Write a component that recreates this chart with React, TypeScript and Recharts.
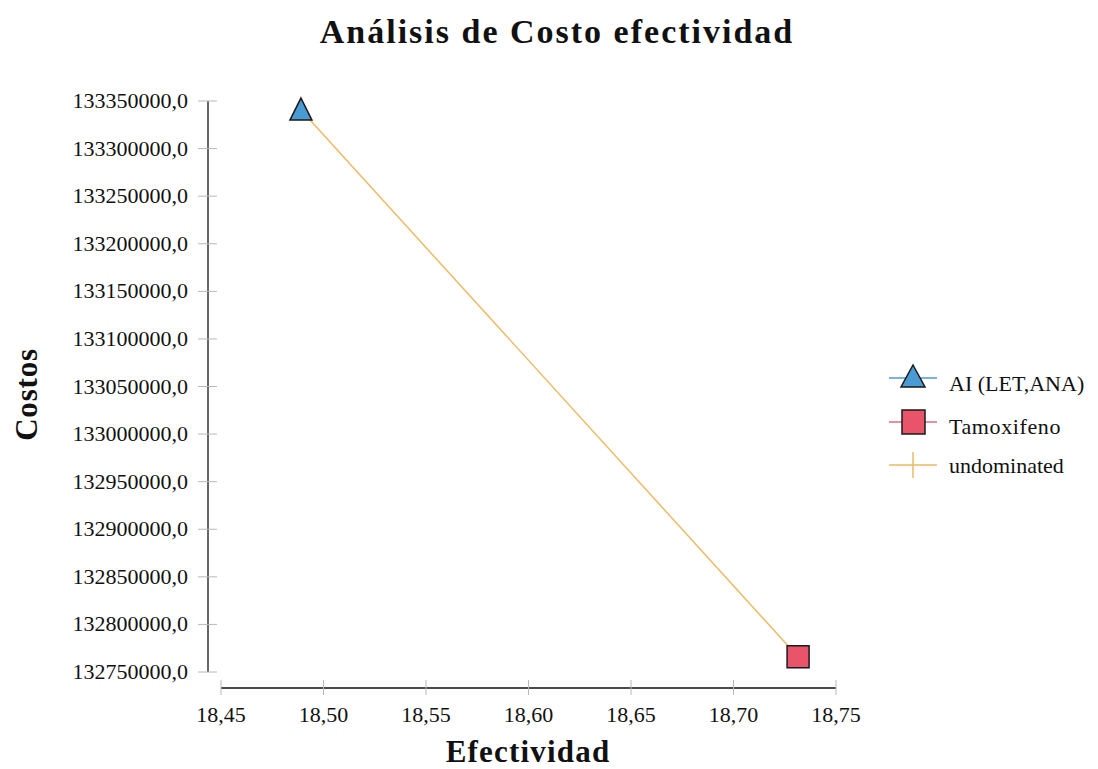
import { Legend, Scatter, ScatterChart, XAxis, YAxis } from "recharts";

const strategies = ["AI (LET,ANA)", "Tamoxifeno"];
const effectiveness = [18.489, 18.7315];
const costs = [133340500, 132766000];
const xTicks = [18.45, 18.5, 18.55, 18.6, 18.65, 18.7, 18.75];
const yTicks = [
  132750000, 132800000, 132850000, 132900000, 132950000, 133000000, 133050000,
  133100000, 133150000, 133200000, 133250000, 133300000, 133350000,
];

const points = strategies.map((name, i) => ({ name, efectividad: effectiveness[i], costos: costs[i] }));
const aiData = [points[0]];
const tamData = [points[1]];

const FONT = '"Liberation Serif", "Times New Roman", serif';
const BLUE = "#4a9bd3";
const RED = "#e9546a";
const ORANGE = "#ebbb66";

const fmt = (v: number, d: number) => v.toFixed(d).replace(".", ",");

const YTick = (props: any) => {
  const { x, y, payload } = props;
  return (
    <g>
      <line x1={x + 10} x2={x + 29} y1={y} y2={y} stroke="#b8b8b8" />
      <text x={x} y={y} dy={7} textAnchor="end" fontFamily={FONT} fontSize={22} fill="#111">
        {fmt(payload.value, 1)}
      </text>
    </g>
  );
};

const XTick = (props: any) => {
  const { x, y, payload } = props;
  return (
    <g>
      <line x1={x} x2={x} y1={y - 8} y2={y + 7} stroke="#b8b8b8" />
      <text x={x} y={y + 34} textAnchor="middle" fontFamily={FONT} fontSize={22} fill="#111">
        {fmt(payload.value, 2)}
      </text>
    </g>
  );
};

const Triangle = (props: any) => {
  const { cx, cy } = props;
  return (
    <polygon
      points={`${cx},${cy - 12} ${cx + 11},${cy + 10} ${cx - 11},${cy + 10}`}
      fill={BLUE}
      stroke="#1a1a1a"
      strokeWidth={1.5}
    />
  );
};

const Square = (props: any) => {
  const { cx, cy } = props;
  return <rect x={cx - 11} y={cy - 11} width={22} height={22} fill={RED} stroke="#1a1a1a" strokeWidth={1.5} />;
};

const LegendContent = () => (
  <svg width={215} height={130} style={{ display: "block" }}>
    <line x1={9} x2={57} y1={18} y2={18} stroke={BLUE} strokeWidth={1.5} />
    <polygon points="33,5 45,27 21,27" fill={BLUE} stroke="#1a1a1a" strokeWidth={1.5} />
    <text x={69} y={31} fontFamily={FONT} fontSize={22} fill="#111">{strategies[0]}</text>
    <line x1={9} x2={57} y1={62} y2={62} stroke="#d8707e" strokeWidth={1.5} />
    <rect x={22} y={50} width={23} height={24} fill={RED} stroke="#1a1a1a" strokeWidth={1.5} />
    <text x={69} y={74} fontFamily={FONT} fontSize={22} letterSpacing={0.6} fill="#111">{strategies[1]}</text>
    <line x1={9} x2={57} y1={105} y2={105} stroke={ORANGE} strokeWidth={1.5} />
    <line x1={33} x2={33} y1={92} y2={118} stroke={ORANGE} strokeWidth={1.5} />
    <text x={69} y={113} fontFamily={FONT} fontSize={22} fill="#111">undominated</text>
  </svg>
);

export default function App() {
  return (
    <div style={{ position: "relative", width: 1090, height: 761, background: "#fff" }}>
      <svg width={1090} height={60} style={{ position: "absolute", left: 0, top: 0, pointerEvents: "none" }}>
        <text x={549} y={35} textAnchor="middle" fontFamily={FONT} fontWeight="bold" fontSize={34} letterSpacing={2} fill="#111">
          Análisis de Costo efectividad
        </text>
      </svg>
      <ScatterChart width={1090} height={761} margin={{ top: 93, right: 47, bottom: 0, left: 0 }}>
        <XAxis
          type="number"
          dataKey="efectividad"
          domain={[18.45, 18.75]}
          ticks={xTicks}
          padding={{ left: 13, right: 0 }}
          height={81}
          tickSize={0}
          tickMargin={0}
          tick={<XTick />}
          axisLine={{ stroke: "#111", strokeWidth: 1.5, strokeDasharray: "0 13 1000" }}
          label={{
            value: "Efectividad",
            position: "insideBottom",
            offset: 7,
            dx: 6,
            style: { fontFamily: FONT, fontWeight: "bold", fontSize: 31, letterSpacing: 1.2, fill: "#111" },
          }}
        />
        <YAxis
          type="number"
          dataKey="costos"
          domain={[132750000, 133350000]}
          ticks={yTicks}
          padding={{ top: 0, bottom: 16 }}
          width={200}
          tickSize={0}
          tickMargin={20}
          tick={<YTick />}
          axisLine={{ stroke: "#333", strokeWidth: 1.5, strokeDasharray: "571 100" }}
          label={{
            value: "Costos",
            angle: -90,
            position: "insideLeft",
            offset: 18,
            style: { fontFamily: FONT, fontWeight: "bold", fontSize: 31, letterSpacing: 0.8, fill: "#111", textAnchor: "middle" },
          }}
        />
        <Legend
          layout="vertical"
          align="right"
          verticalAlign="top"
          content={<LegendContent />}
          wrapperStyle={{ position: "absolute", left: 872, top: 352, width: 215, height: 130 }}
        />
        <Scatter
          name="undominated"
          data={points}
          line={{ stroke: ORANGE, strokeWidth: 1.5 }}
          shape={() => <g />}
          isAnimationActive={false}
        />
        <Scatter name={strategies[0]} data={aiData} shape={<Triangle />} isAnimationActive={false} />
        <Scatter name={strategies[1]} data={tamData} shape={<Square />} isAnimationActive={false} />
      </ScatterChart>
    </div>
  );
}
